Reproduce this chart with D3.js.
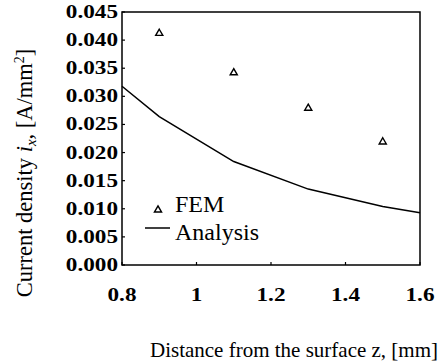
<!DOCTYPE html>
<html>
<head>
<meta charset="UTF-8">
<script src="https://cdn.jsdelivr.net/npm/d3@7"></script>
<style>
  body { margin: 0; background: #fff; }
</style>
</head>
<body>
<script>
// FEM points and analytic curve
const femZ = [0.9, 1.1, 1.3, 1.5];
const femI = [0.0412, 0.0342, 0.0279, 0.0219];
const anaZ = [0.8, 0.9, 1.1, 1.3, 1.5, 1.6];
const anaI = [0.0318, 0.0264, 0.0184, 0.0135, 0.0104, 0.0093];
const xTicks = [0.8, 1.0, 1.2, 1.4, 1.6];
const xTickLabels = ["0.8", "1", "1.2", "1.4", "1.6"];
const yTicks = [0, 0.005, 0.01, 0.015, 0.02, 0.025, 0.03, 0.035, 0.04, 0.045];

const W = 446, H = 364;
const m = { left: 122, right: 26, top: 12, bottom: 99 };
const FONT = "'Liberation Serif', 'Times New Roman', Times, serif";

const svg = d3.select("body").append("svg")
  .attr("width", W).attr("height", H)
  .attr("font-family", FONT);

const x = d3.scaleLinear().domain([0.8, 1.6]).range([m.left, W - m.right]);
const y = d3.scaleLinear().domain([0, 0.045]).range([H - m.bottom, m.top]);

// frame
svg.append("rect")
  .attr("x", x(0.8)).attr("y", y(0.045))
  .attr("width", x(1.6) - x(0.8)).attr("height", y(0) - y(0.045))
  .attr("fill", "none").attr("stroke", "#000").attr("stroke-width", 1.5);

// y ticks (inward) and labels
yTicks.forEach(v => {
  svg.append("line")
    .attr("x1", x(0.8)).attr("x2", x(0.8) + 3)
    .attr("y1", y(v)).attr("y2", y(v))
    .attr("stroke", "#000").attr("stroke-width", 1.2);
});
const yLab = svg.append("g").selectAll("text")
  .data(yTicks).join("text")
  .attr("font-family", FONT)
  .attr("x", x(0.8) - 4)
  .attr("y", d => y(d) + 6)
  .attr("text-anchor", "end")
  .attr("font-size", 19).attr("font-weight", "bold")
  .text(d => d3.format(".3f")(d));

// x ticks (inward) and labels
xTicks.forEach(v => {
  svg.append("line")
    .attr("x1", x(v)).attr("x2", x(v))
    .attr("y1", y(0)).attr("y2", y(0) - 3)
    .attr("stroke", "#000").attr("stroke-width", 1.2);
});
const xLab = svg.append("g").selectAll("text")
  .data(xTicks).join("text")
  .attr("font-family", FONT)
  .attr("x", d => x(d))
  .attr("y", y(0) + 36)
  .attr("text-anchor", "middle")
  .attr("font-size", 19).attr("font-weight", "bold")
  .text((d, i) => xTickLabels[i]);

// tick labels in the figure are drawn wide
[yLab, xLab].forEach(sel => sel.each(function () {
  const w = this.getComputedTextLength();
  d3.select(this).attr("textLength", w * 1.22).attr("lengthAdjust", "spacingAndGlyphs");
}));

// analytic curve
const line = d3.line().x(d => x(d[0])).y(d => y(d[1]));
svg.append("path")
  .datum(anaZ.map((z, i) => [z, anaI[i]]))
  .attr("d", line)
  .attr("fill", "none").attr("stroke", "#000").attr("stroke-width", 1.5);

// FEM triangles
const tri = d3.symbol().type(d3.symbolTriangle).size(22);
svg.append("g").selectAll("path")
  .data(femZ.map((z, i) => [z, femI[i]]))
  .join("path")
  .attr("d", tri)
  .attr("transform", d => `translate(${x(d[0])},${y(d[1])})`)
  .attr("fill", "none").attr("stroke", "#000").attr("stroke-width", 1.4);

// legend
svg.append("path").attr("d", tri)
  .attr("transform", "translate(158,210)")
  .attr("fill", "none").attr("stroke", "#000").attr("stroke-width", 1.4);
svg.append("text").attr("font-family", FONT)
  .attr("x", 175).attr("y", 212).attr("font-size", 24).text("FEM");
svg.append("line").attr("x1", 145).attr("x2", 170).attr("y1", 228).attr("y2", 228)
  .attr("stroke", "#000").attr("stroke-width", 1.5);
svg.append("text").attr("font-family", FONT)
  .attr("x", 175).attr("y", 240).attr("font-size", 24).text("Analysis");

// axis titles
svg.append("text").attr("font-family", FONT)
  .attr("x", 294).attr("y", 357)
  .attr("text-anchor", "middle").attr("font-size", 21)
  .text("Distance from the surface z, [mm]");

const yt = svg.append("text").attr("font-family", FONT)
  .attr("transform", "translate(32,173) rotate(-90)")
  .attr("text-anchor", "middle").attr("font-size", 22.5);
yt.append("tspan").text("Current density ");
yt.append("tspan").attr("font-style", "italic").text("i");
yt.append("tspan").attr("font-style", "italic").attr("font-size", 15).attr("dy", 4).text("x");
yt.append("tspan").attr("dy", -4).text(", [A/mm");
yt.append("tspan").attr("font-size", 14).attr("dy", -8).text("2");
yt.append("tspan").attr("dy", 8).text("]");
</script>
</body>
</html>
